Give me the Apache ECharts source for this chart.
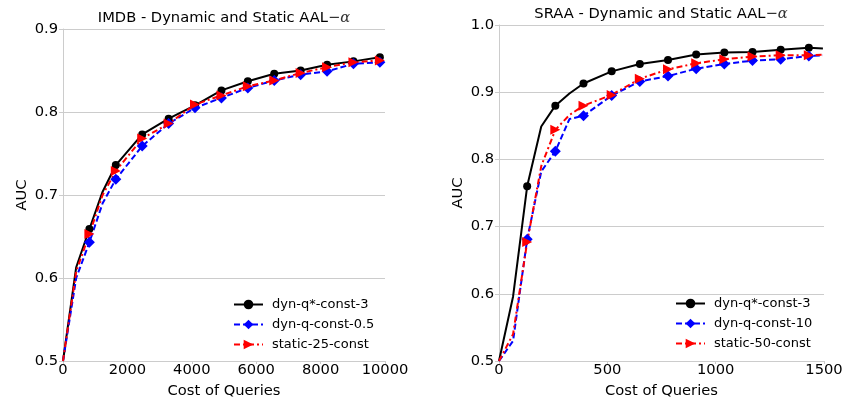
<!DOCTYPE html>
<html>
<head>
<meta charset="utf-8">
<script src="https://cdn.jsdelivr.net/npm/echarts@6/dist/echarts.min.js"></script>
<style>
  html, body { margin: 0; padding: 0; background: #fff; }
  #chart { width: 849px; height: 406px; }
</style>
</head>
<body>
<div id="chart"></div>
<script>
// IMDB panel
const imdbCost = [0, 410, 820, 1230, 1640, 2460, 3280, 4100, 4920, 5740, 6560, 7380, 8200, 9020, 9840]
const imdbDynQStar = [0.5, 0.613, 0.659, 0.704, 0.736, 0.773, 0.792, 0.808, 0.826, 0.837, 0.846, 0.850, 0.857, 0.861, 0.866]
const imdbDynQ = [0.5, 0.600, 0.643, 0.690, 0.719, 0.759, 0.786, 0.805, 0.817, 0.829, 0.838, 0.845, 0.849, 0.858, 0.860]
const imdbStatic = [0.5, 0.608, 0.653, 0.700, 0.729, 0.768, 0.786, 0.809, 0.820, 0.831, 0.838, 0.847, 0.854, 0.860, 0.862]
const imdbNames = ['dyn-q*-const-3', 'dyn-q-const-0.5', 'static-25-const']

// SRAA panel
const sraaCost = [0, 65, 130, 195, 260, 325, 390, 520, 650, 780, 910, 1040, 1170, 1300, 1430, 1495]
const sraaDynQStar = [0.5, 0.596, 0.760, 0.849, 0.880, 0.898, 0.913, 0.931, 0.942, 0.948, 0.956, 0.959, 0.960, 0.963, 0.966, 0.965]
const sraaDynQ = [0.5, 0.530, 0.681, 0.782, 0.812, 0.860, 0.865, 0.895, 0.916, 0.924, 0.935, 0.942, 0.947, 0.949, 0.954, 0.955]
const sraaStatic = [0.5, 0.540, 0.677, 0.790, 0.844, 0.866, 0.880, 0.896, 0.920, 0.934, 0.943, 0.949, 0.953, 0.955, 0.955, 0.956]
const sraaNames = ['dyn-q*-const-3', 'dyn-q-const-10', 'static-50-const']

const font = 'DejaVu Sans'
const fs = 14.7
const gridColor = '#cccccc'

// markers only on every other sample (matplotlib markevery)
function pts(xs, ys, step) {
  return xs.map((x, i) => {
    const item = { value: [x, ys[i]] }
    if (x === 0 || x % step !== 0) item.symbol = 'none'
    return item
  })
}

const styles = [
  { color: '#000000', symbol: 'circle', symbolSize: 8, symbolRotate: 0, type: 'solid' },
  { color: '#0000ff', symbol: 'diamond', symbolSize: 11, symbolRotate: 0, type: [6, 3] },
  { color: '#ff0000', symbol: 'triangle', symbolSize: 10, symbolRotate: -90, type: [6, 3, 2, 3] }
]

function mkSeries(name, idx, data, s) {
  return {
    name: name,
    type: 'line',
    xAxisIndex: idx,
    yAxisIndex: idx,
    data: data,
    symbol: s.symbol,
    symbolSize: s.symbolSize,
    symbolRotate: s.symbolRotate,
    showAllSymbol: true,
    clip: true,
    itemStyle: { color: s.color },
    lineStyle: { color: s.color, width: 2, type: s.type },
    animation: false
  }
}

function xAxis(idx, max, interval) {
  return {
    type: 'value', gridIndex: idx, min: 0, max: max, interval: interval,
    name: 'Cost of Queries', nameLocation: 'middle', nameGap: 23,
    nameTextStyle: { fontFamily: font, fontSize: fs, color: '#000' },
    axisLine: { show: true, lineStyle: { color: gridColor, width: 1 } },
    axisTick: { show: true, length: 3, lineStyle: { color: gridColor } },
    axisLabel: { fontFamily: font, fontSize: fs, color: '#000', margin: 2, formatter: v => String(v) },
    splitLine: { show: false }
  }
}

function yAxis(idx, max) {
  return {
    type: 'value', gridIndex: idx, min: 0.5, max: max, interval: 0.1,
    name: 'AUC', nameLocation: 'middle', nameGap: 33, nameRotate: 90,
    nameTextStyle: { fontFamily: font, fontSize: fs, color: '#000' },
    axisLine: { show: true, lineStyle: { color: gridColor, width: 1 } },
    axisTick: { show: true, length: 4, lineStyle: { color: gridColor } },
    axisLabel: { fontFamily: font, fontSize: fs, color: '#000', margin: 5, formatter: v => v.toFixed(1) },
    splitLine: { show: true, lineStyle: { color: gridColor, width: 1 } }
  }
}

function titleText(prefix) {
  return '{a|' + prefix + ' - Dynamic and Static AAL}{b|−}{c|α}'
}
const titleRich = {
  a: { fontFamily: font, fontSize: fs, fontWeight: 'normal', color: '#000' },
  b: { fontFamily: font, fontSize: fs, fontWeight: 'normal', color: '#333' },
  c: { fontFamily: 'DejaVu Serif', fontStyle: 'italic', fontWeight: 'normal', fontSize: fs, color: '#333' }
}

function legend(names, left, top) {
  return {
    data: names, orient: 'vertical', left: left, top: top, padding: 0,
    itemWidth: 29, itemHeight: 12, itemGap: 7,
    backgroundColor: '#fff',
    textStyle: { fontFamily: font, fontSize: 13, color: '#000', padding: [0, 0, 0, 4] },
    selectedMode: false
  }
}

const chart = echarts.init(document.getElementById('chart'))
const option = {
  backgroundColor: '#fff',
  animation: false,
  title: [
    { text: titleText('IMDB'), left: 224, top: 11, textAlign: 'center', padding: 0, textStyle: { fontWeight: 'normal', rich: titleRich } },
    { text: titleText('SRAA'), left: 661, top: 7, textAlign: 'center', padding: 0, textStyle: { fontWeight: 'normal', rich: titleRich } }
  ],
  grid: [
    { left: 63, right: 464, top: 29, bottom: 45, containLabel: false },
    { left: 499, right: 25, top: 25, bottom: 45, containLabel: false }
  ],
  xAxis: [xAxis(0, 10000, 2000), xAxis(1, 1500, 500)],
  yAxis: [yAxis(0, 0.9), yAxis(1, 1.0)],
  legend: [legend(imdbNames, 233, 298), legend(sraaNames, 675, 297)],
  series: [
    mkSeries(imdbNames[0], 0, pts(imdbCost, imdbDynQStar, 820), styles[0]),
    mkSeries(imdbNames[1], 0, pts(imdbCost, imdbDynQ, 820), styles[1]),
    mkSeries(imdbNames[2], 0, pts(imdbCost, imdbStatic, 820), styles[2]),
    mkSeries(sraaNames[0], 1, pts(sraaCost, sraaDynQStar, 130), styles[0]),
    mkSeries(sraaNames[1], 1, pts(sraaCost, sraaDynQ, 130), styles[1]),
    mkSeries(sraaNames[2], 1, pts(sraaCost, sraaStatic, 130), styles[2])
  ]
}
chart.setOption(option)
</script>
</body>
</html>
